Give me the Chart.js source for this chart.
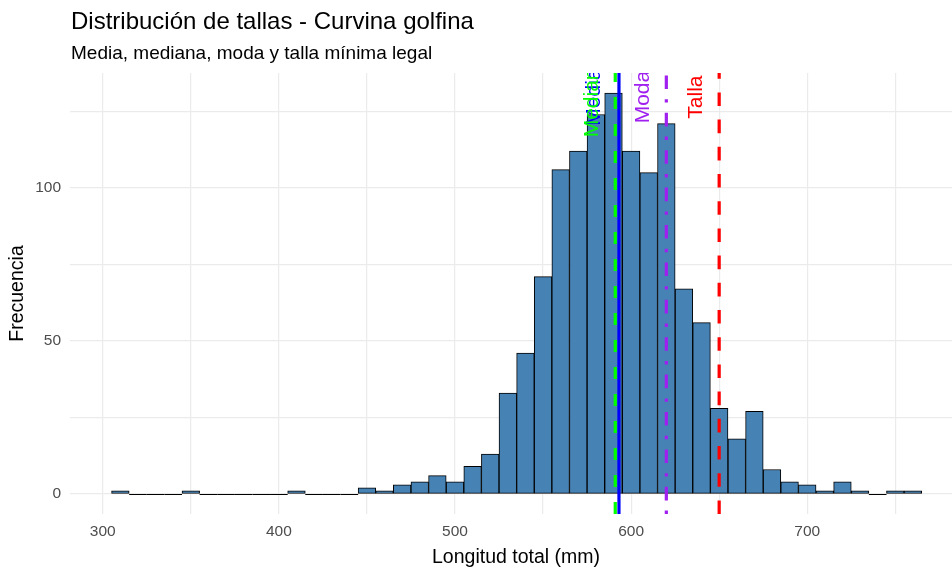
<!DOCTYPE html>
<html>
<head>
<meta charset="utf-8">
<title>Distribución de tallas - Curvina golfina</title>
<script src="https://cdn.jsdelivr.net/npm/chart.js@4.4.1/dist/chart.umd.min.js"></script>
<style>
    html, body { margin: 0; padding: 0; background: #fff; overflow: hidden; }
    #wrap { width: 952px; height: 570px; position: relative; }
</style>
</head>
<body>
<div id="wrap"><canvas id="hist"></canvas></div>
<script>
// Histogram bins (centre of each 10 mm bin) and counts
const binCenters = [310, 320, 330, 340, 350, 360, 370, 380, 390, 400,
                    410, 420, 430, 440, 450, 460, 470, 480, 490, 500,
                    510, 520, 530, 540, 550, 560, 570, 580, 590, 600,
                    610, 620, 630, 640, 650, 660, 670, 680, 690, 700,
                    710, 720, 730, 740, 750, 760];
const counts = [1, 0, 0, 0, 1, 0, 0, 0, 0, 0,
                1, 0, 0, 0, 2, 1, 3, 4, 6, 4,
                9, 13, 33, 46, 71, 106, 112, 124, 131, 112,
                105, 121, 67, 56, 28, 18, 27, 8, 4, 3,
                1, 4, 1, 0, 1, 1];
const binWidth = 10;

// Reference lines
const refNames = ['Mediana', 'Media', 'Moda', 'Talla'];
const refValues = [591, 593.1, 620, 650];

// Axis ticks
const xTicks = [300, 350, 400, 450, 500, 550, 600, 650, 700, 750];
const yTicks = [0, 25, 50, 75, 100, 125];

// styles for the reference lines (same order as refNames)
const refColors = ['#00FF00', '#0000FF', '#A020F0', '#FF0000'];
const refDashes = [[12, 15], [], [3.4, 10.2, 13.6, 10.2], [13.6, 13.6]];
const textShift = [-23, -25, -23, -23];
const textOrder = [1, 0, 2, 3];

const FONT = '"Liberation Sans", Arial, sans-serif';

const overlay = {
    id: 'overlay',
    afterDatasetsDraw(chart) {
        const { ctx, chartArea: a, scales: { x, y } } = chart;
        ctx.save();
        ctx.beginPath();
        ctx.rect(a.left, a.top, a.right - a.left, a.bottom - a.top);
        ctx.clip();

        // empty bins still show a flat outline at zero
        ctx.strokeStyle = '#000';
        ctx.lineWidth = 1;
        binCenters.forEach((c, i) => {
            if (counts[i] === 0) {
                const y0 = Math.round(y.getPixelForValue(0)) + 0.5;
                ctx.beginPath();
                ctx.moveTo(x.getPixelForValue(c - binWidth / 2), y0);
                ctx.lineTo(x.getPixelForValue(c + binWidth / 2), y0);
                ctx.stroke();
            }
        });

        // vertical lines
        ctx.lineCap = 'butt';
        refValues.forEach((v, i) => {
            const px = x.getPixelForValue(v);
            ctx.strokeStyle = refColors[i];
            ctx.lineWidth = 3.2;
            ctx.setLineDash(refDashes[i]);
            ctx.beginPath();
            ctx.moveTo(px, a.bottom);
            ctx.lineTo(px, a.top);
            ctx.stroke();
        });
        ctx.setLineDash([]);

        // rotated labels
        const labelY = y.getPixelForValue(Math.max(...counts) * 0.99);
        ctx.font = '21px ' + FONT;
        ctx.textAlign = 'center';
        ctx.textBaseline = 'middle';
        textOrder.forEach(i => {
            const px = x.getPixelForValue(refValues[i]) + textShift[i];
            ctx.save();
            ctx.translate(px, labelY);
            ctx.rotate(-Math.PI / 2);
            ctx.fillStyle = refColors[i];
            ctx.fillText(refNames[i], 0, 0);
            ctx.restore();
        });
        ctx.restore();
    },
    afterDraw(chart) {
        const { ctx, chartArea: a } = chart;
        ctx.save();
        ctx.fillStyle = '#000';
        ctx.textBaseline = 'alphabetic';
        ctx.textAlign = 'left';
        ctx.font = '24px ' + FONT;
        ctx.fillText('Distribución de tallas - Curvina golfina', 71, 29);
        ctx.font = '19px ' + FONT;
        ctx.fillText('Media, mediana, moda y talla mínima legal', 71, 59);

        // axis titles
        ctx.font = '19.5px ' + FONT;
        ctx.textAlign = 'center';
        ctx.fillText('Longitud total (mm)', 516, 563);
        ctx.translate(23, (a.top + a.bottom) / 2);
        ctx.rotate(-Math.PI / 2);
        ctx.fillText('Frecuencia', 0, 0);
        ctx.restore();
    }
};

new Chart(document.getElementById('hist'), {
    type: 'bar',
    data: {
        datasets: [{
            data: binCenters.map((c, i) => ({ x: c, y: counts[i] })),
            backgroundColor: '#4682B4',
            borderColor: '#000000',
            borderWidth: 1,
            borderSkipped: false,
            barPercentage: 1,
            categoryPercentage: 1,
            grouped: false
        }]
    },
    options: {
        responsive: true,
        maintainAspectRatio: false,
        animation: false,
        layout: { padding: { top: 73, right: 0, bottom: 0, left: 0 } },
        plugins: {
            legend: { display: false },
            tooltip: { enabled: false },
            title: { display: false }
        },
        scales: {
            x: {
                type: 'linear',
                min: 281.4,
                max: 782.2,
                offset: false,
                afterFit: (scale) => { scale.height = 56; },
                afterBuildTicks: (scale) => { scale.ticks = xTicks.map(v => ({ value: v })); },
                grid: { color: '#EBEBEB', lineWidth: 1.2, drawTicks: false, offset: false },
                border: { display: false },
                ticks: {
                    autoSkip: false,
                    maxRotation: 0,
                    padding: 8,
                    color: '#4D4D4D',
                    font: { family: FONT, size: 15.5 },
                    callback: (v) => (v % 100 === 0 ? String(v) : '')
                }
            },
            y: {
                min: -6.55,
                max: 137.55,
                afterFit: (scale) => { scale.width = 70; },
                afterBuildTicks: (scale) => { scale.ticks = yTicks.map(v => ({ value: v })); },
                grid: { color: '#EBEBEB', lineWidth: 1.2, drawTicks: false },
                border: { display: false },
                ticks: {
                    padding: 9,
                    color: '#4D4D4D',
                    font: { family: FONT, size: 15.5 },
                    callback: (v) => (v % 50 === 0 ? String(v) : '')
                }
            }
        }
    },
    plugins: [overlay]
});
</script>
</body>
</html>
